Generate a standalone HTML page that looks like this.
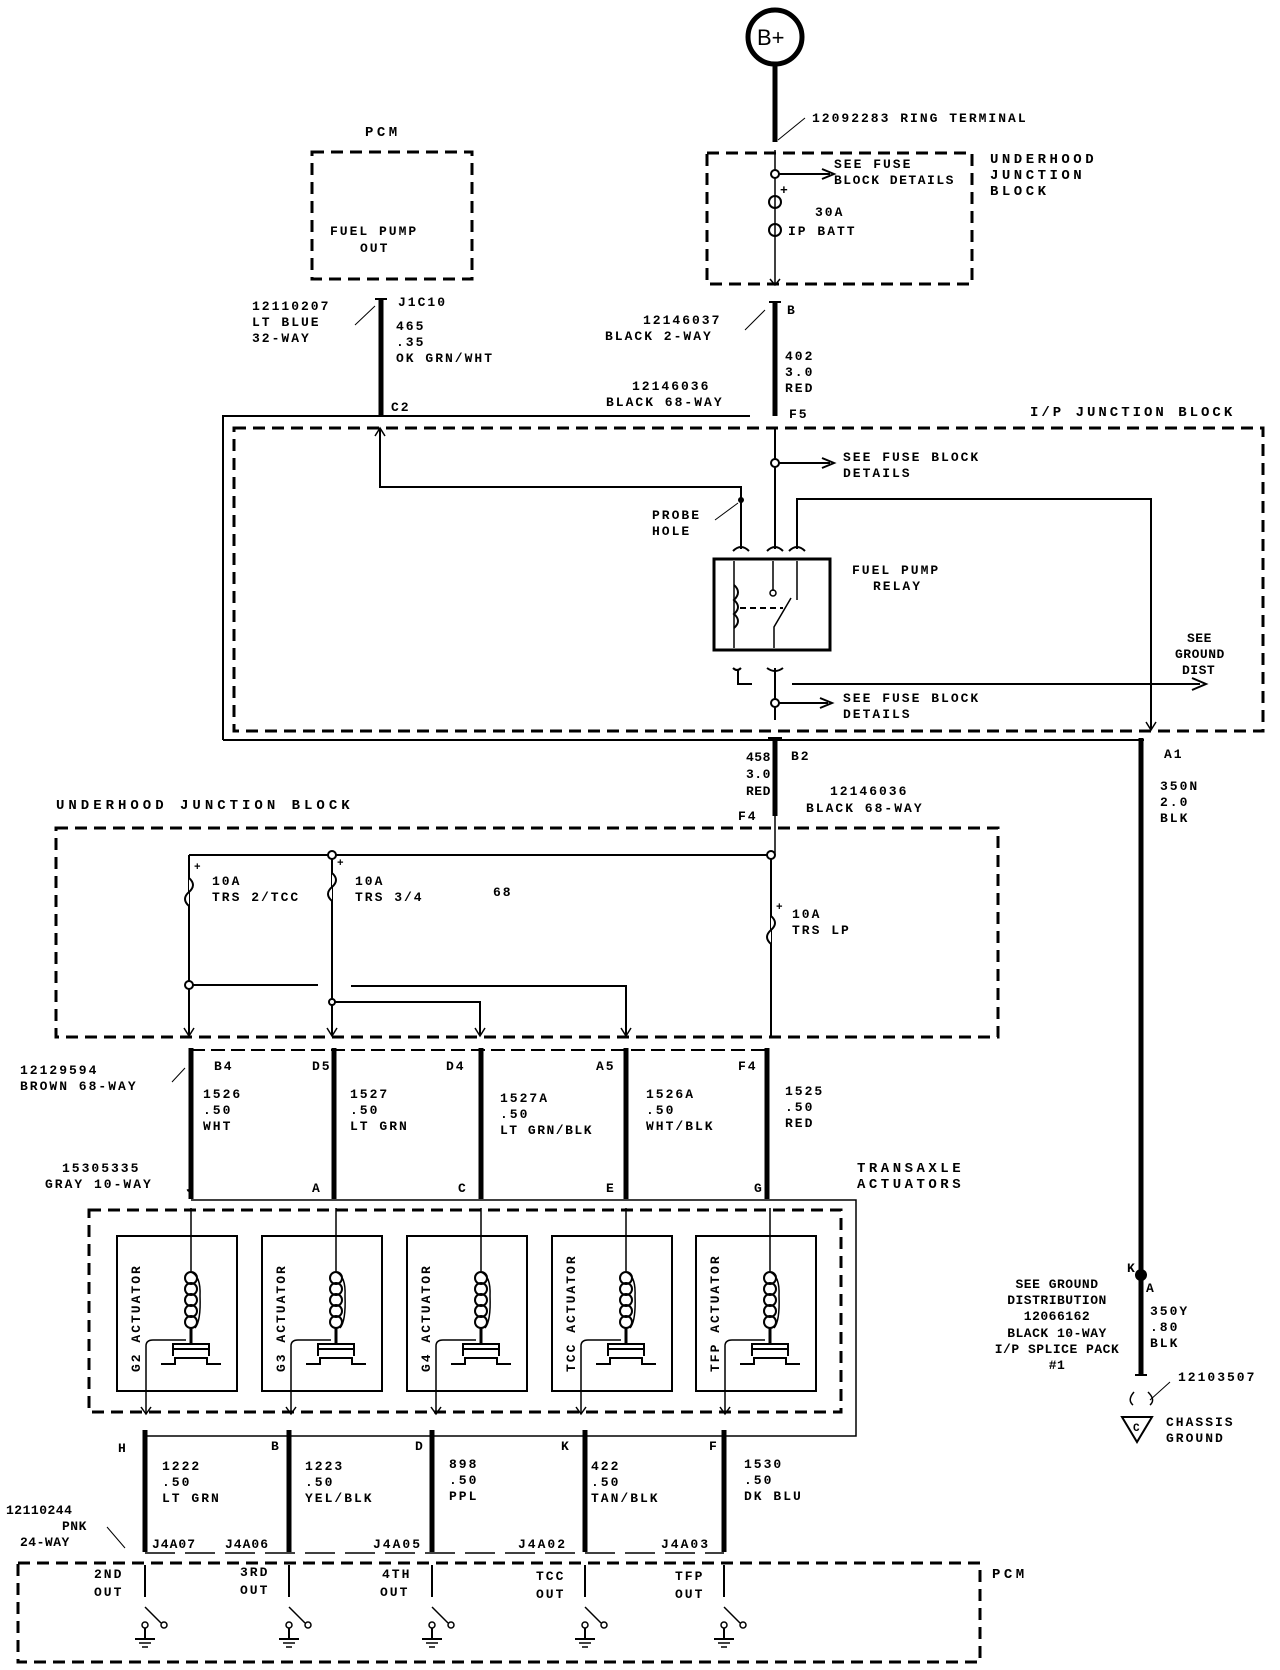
<!DOCTYPE html>
<html><head><meta charset="utf-8"><style>
html,body{margin:0;padding:0;background:#fff}
svg{display:block}
text{font-family:"Liberation Mono",monospace;font-size:13px;font-weight:bold;fill:#000;letter-spacing:2px}
.h{font-size:14px;letter-spacing:3.5px}
.n{letter-spacing:0.5px}
</style></head><body>
<svg width="1280" height="1670" viewBox="0 0 1280 1670" xmlns="http://www.w3.org/2000/svg">
<defs>
<g id="act">
  <rect x="-74" y="0" width="120" height="155" fill="none" stroke="#000" stroke-width="2"/>
  <line x1="0" y1="-28" x2="0" y2="35" stroke="#000" stroke-width="1.5"/>
  <circle cx="0" cy="42" r="6" fill="none" stroke="#000" stroke-width="2"/>
  <circle cx="0" cy="53" r="6" fill="none" stroke="#000" stroke-width="2"/>
  <circle cx="0" cy="64" r="6" fill="none" stroke="#000" stroke-width="2"/>
  <circle cx="0" cy="75" r="6" fill="none" stroke="#000" stroke-width="2"/>
  <circle cx="0" cy="86" r="6" fill="none" stroke="#000" stroke-width="2"/>
  <path d="M0 36 Q10 40 9 60 Q10 85 4 92" fill="none" stroke="#000" stroke-width="1.5"/>
  <line x1="0" y1="92" x2="0" y2="108" stroke="#000" stroke-width="3"/>
  <path d="M-18 120 V108 H18 V120" fill="none" stroke="#000" stroke-width="2"/>
  <line x1="-18" y1="113" x2="18" y2="113" stroke="#000" stroke-width="2"/>
  <path d="M-30 128 H-16 V122 H16 V128 H30" fill="none" stroke="#000" stroke-width="2"/>
  <path d="M-45 178 V110 Q-45 104 -38 104 H-5" fill="none" stroke="#000" stroke-width="1.5"/>
  <path d="M-50 171 L-45 178 L-40 171" fill="none" stroke="#000" stroke-width="1.5"/>
</g>
<g id="out">
  <line x1="0" y1="0" x2="0" y2="32" stroke="#000" stroke-width="2"/>
  <line x1="0" y1="42" x2="16" y2="58" stroke="#000" stroke-width="1.5"/>
  <circle cx="19" cy="60" r="3" fill="none" stroke="#000" stroke-width="1.5"/>
  <circle cx="0" cy="60" r="3" fill="none" stroke="#000" stroke-width="1.5"/>
  <line x1="0" y1="63" x2="0" y2="74" stroke="#000" stroke-width="2"/>
  <line x1="-10" y1="74" x2="10" y2="74" stroke="#000" stroke-width="2"/>
  <line x1="-6" y1="78" x2="6" y2="78" stroke="#000" stroke-width="1.5"/>
  <line x1="-3" y1="82" x2="3" y2="82" stroke="#000" stroke-width="1.5"/>
</g>
</defs>

<!-- B+ -->
<circle cx="775" cy="37" r="27" fill="none" stroke="#000" stroke-width="5"/>
<text x="757" y="45" style="font-size:22px;font-weight:normal;font-family:'Liberation Sans',sans-serif;letter-spacing:0">B+</text>
<line x1="775" y1="64" x2="775" y2="142" stroke="#000" stroke-width="5"/>
<path d="M778 140 L805 118" stroke="#000" stroke-width="1"/>
<text x="812" y="122">12092283 RING TERMINAL</text>

<!-- Underhood JB top -->
<rect x="707" y="153" width="265" height="131" fill="none" stroke="#000" stroke-width="3" stroke-dasharray="12,7"/>
<text class="h" x="990" y="163">UNDERHOOD</text><text class="h" x="990" y="179">JUNCTION</text><text class="h" x="990" y="195">BLOCK</text>
<line x1="775" y1="150" x2="775" y2="284" stroke="#000" stroke-width="1.5"/>
<circle cx="775" cy="174" r="4" fill="#fff" stroke="#000" stroke-width="2"/>
<line x1="779" y1="174" x2="830" y2="174" stroke="#000" stroke-width="2"/>
<path d="M822 169 L834 174 L822 179" fill="none" stroke="#000" stroke-width="2"/>
<text x="834" y="168">SEE FUSE</text><text x="834" y="184" style="letter-spacing:1.5px">BLOCK DETAILS</text>
<text x="780" y="194">+</text>
<circle cx="775" cy="202" r="6" fill="none" stroke="#000" stroke-width="2"/>
<circle cx="775" cy="230" r="6" fill="none" stroke="#000" stroke-width="2"/>
<text x="815" y="216">30A</text><text x="788" y="235">IP BATT</text>
<path d="M770 279 L775 285 L780 279" fill="none" stroke="#000" stroke-width="1.5"/>

<!-- PCM top -->
<text class="h" x="365" y="136">PCM</text>
<rect x="312" y="152" width="160" height="127" fill="none" stroke="#000" stroke-width="3" stroke-dasharray="12,7"/>
<text x="330" y="235">FUEL PUMP</text><text x="360" y="252">OUT</text>

<!-- PCM wire -->
<line x1="381" y1="299" x2="381" y2="416" stroke="#000" stroke-width="5"/>
<path d="M375 299 L387 299" stroke="#000" stroke-width="2"/>
<path d="M375 306 L355 325" stroke="#000" stroke-width="1"/>
<text x="252" y="310">12110207</text><text x="252" y="326">LT BLUE</text><text x="252" y="342">32-WAY</text>
<text x="398" y="306">J1C10</text>
<text x="396" y="330">465</text><text x="396" y="346">.35</text><text x="396" y="362">OK GRN/WHT</text>
<text x="391" y="411">C2</text>

<!-- 402 wire -->
<line x1="775" y1="302" x2="775" y2="416" stroke="#000" stroke-width="5"/>
<path d="M769 302 L781 302" stroke="#000" stroke-width="2"/>
<path d="M765 310 L745 330" stroke="#000" stroke-width="1"/>
<text x="787" y="314">B</text>
<text x="643" y="324">12146037</text><text x="605" y="340">BLACK 2-WAY</text>
<text x="785" y="360">402</text><text x="785" y="376">3.0</text><text x="785" y="392">RED</text>
<text x="632" y="390">12146036</text><text x="606" y="406">BLACK 68-WAY</text>
<text x="789" y="418">F5</text>

<!-- IP junction block -->
<path d="M223 740 V416 H750" fill="none" stroke="#000" stroke-width="2"/>
<line x1="223" y1="740" x2="1144" y2="740" stroke="#000" stroke-width="2"/>
<rect x="234" y="428" width="1029" height="303" fill="none" stroke="#000" stroke-width="3" stroke-dasharray="12,7"/>
<text class="h" x="1030" y="416" style="letter-spacing:3px">I/P JUNCTION BLOCK</text>
<path d="M380 428 V487 H741 V549" fill="none" stroke="#000" stroke-width="2"/>
<path d="M375 436 L380 428 L385 436" fill="none" stroke="#000" stroke-width="1.5"/>
<circle cx="741" cy="500" r="3" fill="#000"/>
<path d="M738 503 L715 520" stroke="#000" stroke-width="1"/>
<text x="652" y="519">PROBE</text><text x="652" y="535">HOLE</text>
<line x1="775" y1="428" x2="775" y2="549" stroke="#000" stroke-width="2"/>
<circle cx="775" cy="463" r="4" fill="#fff" stroke="#000" stroke-width="2"/>
<line x1="779" y1="463" x2="830" y2="463" stroke="#000" stroke-width="2"/>
<path d="M822 458 L834 463 L822 468" fill="none" stroke="#000" stroke-width="2"/>
<text x="843" y="461">SEE FUSE BLOCK</text><text x="843" y="477">DETAILS</text>
<path d="M797 549 V499 H1151 V729" fill="none" stroke="#000" stroke-width="2"/>
<path d="M1146 722 L1151 730 L1156 722" fill="none" stroke="#000" stroke-width="1.5"/>
<path d="M733 551 Q741 543 749 551 M767 551 Q775 543 783 551 M789 551 Q797 543 805 551" fill="none" stroke="#000" stroke-width="2"/>
<!-- relay -->
<rect x="714" y="559" width="116" height="91" fill="none" stroke="#000" stroke-width="3"/>
<line x1="734" y1="561" x2="734" y2="648" stroke="#000" stroke-width="1.5"/>
<path d="M734 585 Q742 592 734 600 Q742 607 734 614 Q742 621 734 628" fill="none" stroke="#000" stroke-width="2"/>
<line x1="773" y1="561" x2="773" y2="591" stroke="#000" stroke-width="1.5"/>
<circle cx="773" cy="593" r="3" fill="none" stroke="#000" stroke-width="1.5"/>
<line x1="797" y1="561" x2="797" y2="600" stroke="#000" stroke-width="1.5"/>
<line x1="740" y1="608" x2="783" y2="608" stroke="#000" stroke-width="2" stroke-dasharray="6,4"/>
<path d="M791 598 L774 627 V648" fill="none" stroke="#000" stroke-width="1.5"/>
<text x="852" y="574">FUEL PUMP</text><text x="873" y="590">RELAY</text>
<path d="M733 668 Q737 672 741 668 M738 670 V684 H752" fill="none" stroke="#000" stroke-width="2"/>
<path d="M767 668 Q775 674 783 668" fill="none" stroke="#000" stroke-width="2"/>
<line x1="775" y1="668" x2="775" y2="720" stroke="#000" stroke-width="2"/>
<line x1="792" y1="684" x2="1200" y2="684" stroke="#000" stroke-width="2"/>
<path d="M1192 678 L1206 684 L1192 690" fill="none" stroke="#000" stroke-width="2"/>
<text class="n" x="1187" y="642">SEE</text><text class="n" x="1175" y="658">GROUND</text><text class="n" x="1182" y="674">DIST</text>
<circle cx="775" cy="703" r="4" fill="#fff" stroke="#000" stroke-width="2"/>
<line x1="779" y1="703" x2="828" y2="703" stroke="#000" stroke-width="2"/>
<path d="M820 698 L832 703 L820 708" fill="none" stroke="#000" stroke-width="2"/>
<text x="843" y="702">SEE FUSE BLOCK</text><text x="843" y="718">DETAILS</text>

<!-- B2 wire -->
<line x1="775" y1="738" x2="775" y2="816" stroke="#000" stroke-width="5"/>
<path d="M768 738 L782 738" stroke="#000" stroke-width="2"/>
<text x="746" y="761" class="n">458</text><text x="746" y="778" class="n">3.0</text><text x="746" y="795" class="n">RED</text>
<text x="791" y="760">B2</text>
<text x="738" y="820">F4</text>
<text x="830" y="795">12146036</text><text x="806" y="812">BLACK 68-WAY</text>

<!-- A1 wire -->
<line x1="1141" y1="738" x2="1141" y2="1375" stroke="#000" stroke-width="5"/>
<text x="1164" y="758">A1</text>
<text x="1160" y="790">350N</text><text x="1160" y="806">2.0</text><text x="1160" y="822">BLK</text>
<circle cx="1141" cy="1275" r="6" fill="#000"/>
<text x="1127" y="1272">K</text><text x="1146" y="1292">A</text>
<text x="1150" y="1315">350Y</text><text x="1150" y="1331">.80</text><text x="1150" y="1347">BLK</text>
<g style="text-anchor:middle">
<text class="n" x="1057" y="1288">SEE GROUND</text><text class="n" x="1057" y="1304">DISTRIBUTION</text><text class="n" x="1057" y="1320">12066162</text>
<text class="n" x="1057" y="1337">BLACK 10-WAY</text><text class="n" x="1057" y="1353">I/P SPLICE PACK</text><text class="n" x="1057" y="1369">#1</text>
</g>
<line x1="1135" y1="1375" x2="1147" y2="1375" stroke="#000" stroke-width="2"/>
<path d="M1150 1400 L1170 1382" stroke="#000" stroke-width="1"/>
<text x="1178" y="1381">12103507</text>
<path d="M1133 1405 Q1127 1400 1134 1392 M1148 1392 Q1156 1400 1150 1405" fill="none" stroke="#000" stroke-width="1.5"/>
<path d="M1122 1417 H1152 L1137 1442 Z" fill="none" stroke="#000" stroke-width="2"/>
<text x="1133" y="1431" style="font-size:11px;letter-spacing:0">C</text>
<text x="1166" y="1426">CHASSIS</text><text x="1166" y="1442">GROUND</text>

<!-- Underhood JB 2 -->
<text class="h" x="56" y="809" style="letter-spacing:4px">UNDERHOOD JUNCTION BLOCK</text>
<rect x="56" y="828" width="942" height="209" fill="none" stroke="#000" stroke-width="3" stroke-dasharray="12,7"/>
<line x1="775" y1="816" x2="775" y2="855" stroke="#000" stroke-width="1.5"/>
<line x1="189" y1="855" x2="771" y2="855" stroke="#000" stroke-width="2"/>
<line x1="189" y1="855" x2="189" y2="1035" stroke="#000" stroke-width="2"/>
<line x1="332" y1="855" x2="332" y2="1035" stroke="#000" stroke-width="2"/>
<line x1="771" y1="855" x2="771" y2="1037" stroke="#000" stroke-width="2"/>
<circle cx="332" cy="855" r="4" fill="#fff" stroke="#000" stroke-width="2"/>
<circle cx="771" cy="855" r="4" fill="#fff" stroke="#000" stroke-width="2"/>
<path d="M189 878 Q197 885 189 892 Q181 899 189 906" fill="#fff" stroke="#000" stroke-width="2"/>
<path d="M332 873 Q340 880 332 887 Q324 894 332 901" fill="#fff" stroke="#000" stroke-width="2"/>
<path d="M771 916 Q779 923 771 930 Q763 937 771 944" fill="#fff" stroke="#000" stroke-width="2"/>
<text x="194" y="870" style="font-size:11px">+</text><text x="337" y="866" style="font-size:11px">+</text><text x="776" y="910" style="font-size:11px">+</text>
<text x="212" y="885">10A</text><text x="212" y="901">TRS 2/TCC</text>
<text x="355" y="885">10A</text><text x="355" y="901">TRS 3/4</text>
<text x="493" y="896">68</text>
<text x="792" y="918">10A</text><text x="792" y="934">TRS LP</text>
<circle cx="189" cy="985" r="4" fill="#fff" stroke="#000" stroke-width="2"/>
<line x1="193" y1="985" x2="318" y2="985" stroke="#000" stroke-width="2"/>
<path d="M351 986 H626 V1035" fill="none" stroke="#000" stroke-width="2"/>
<circle cx="332" cy="1002" r="3" fill="#fff" stroke="#000" stroke-width="2"/>
<path d="M335 1002 H480 V1035" fill="none" stroke="#000" stroke-width="2"/>
<path d="M184 1028 L189 1036 L194 1028 M327 1028 L332 1036 L337 1028 M475 1028 L480 1036 L485 1028 M621 1028 L626 1036 L631 1028" fill="none" stroke="#000" stroke-width="1.5"/>

<!-- connector wires -->
<line x1="191" y1="1050" x2="767" y2="1050" stroke="#000" stroke-width="2" stroke-dasharray="14,6"/>
<g stroke="#000" stroke-width="5">
<line x1="191" y1="1048" x2="191" y2="1199"/><line x1="334" y1="1048" x2="334" y2="1199"/>
<line x1="481" y1="1048" x2="481" y2="1199"/><line x1="626" y1="1048" x2="626" y2="1199"/>
<line x1="767" y1="1048" x2="767" y2="1199"/>
</g>
<path d="M185 1068 L172 1082" stroke="#000" stroke-width="1"/>
<text x="214" y="1070">B4</text><text x="312" y="1070">D5</text><text x="446" y="1070">D4</text><text x="596" y="1070">A5</text><text x="738" y="1070">F4</text>
<text x="20" y="1074">12129594</text><text x="20" y="1090">BROWN 68-WAY</text>
<text x="203" y="1098">1526</text><text x="203" y="1114">.50</text><text x="203" y="1130">WHT</text>
<text x="350" y="1098">1527</text><text x="350" y="1114">.50</text><text x="350" y="1130">LT GRN</text>
<text x="500" y="1102">1527A</text><text x="500" y="1118">.50</text><text x="500" y="1134" style="letter-spacing:1.5px">LT GRN/BLK</text>
<text x="646" y="1098">1526A</text><text x="646" y="1114">.50</text><text x="646" y="1130">WHT/BLK</text>
<text x="785" y="1095">1525</text><text x="785" y="1111">.50</text><text x="785" y="1127">RED</text>
<text x="62" y="1172">15305335</text><text x="45" y="1188">GRAY 10-WAY</text>
<text x="186" y="1192">J</text><text x="312" y="1192">A</text><text x="458" y="1192">C</text><text x="606" y="1192">E</text><text x="754" y="1192">G</text>
<text class="h" x="857" y="1172">TRANSAXLE</text><text class="h" x="857" y="1188">ACTUATORS</text>
<path d="M191 1200 H856 V1436 H145" fill="none" stroke="#000" stroke-width="1.5"/>
<rect x="89" y="1210" width="752" height="202" fill="none" stroke="#000" stroke-width="3" stroke-dasharray="12,7"/>

<use href="#act" x="191" y="1236"/><use href="#act" x="336" y="1236"/>
<use href="#act" x="481" y="1236"/><use href="#act" x="626" y="1236"/>
<use href="#act" x="770" y="1236"/>
<g style="font-size:12px;letter-spacing:1px">
<text transform="translate(140 1372) rotate(-90)">G2 ACTUATOR</text>
<text transform="translate(285 1372) rotate(-90)">G3 ACTUATOR</text>
<text transform="translate(430 1372) rotate(-90)">G4 ACTUATOR</text>
<text transform="translate(575 1372) rotate(-90)">TCC ACTUATOR</text>
<text transform="translate(719 1372) rotate(-90)">TFP ACTUATOR</text>
</g>

<!-- lower wires -->
<g stroke="#000" stroke-width="5">
<line x1="145" y1="1430" x2="145" y2="1552"/><line x1="289" y1="1430" x2="289" y2="1552"/>
<line x1="432" y1="1430" x2="432" y2="1552"/><line x1="585" y1="1430" x2="585" y2="1552"/>
<line x1="724" y1="1430" x2="724" y2="1552"/>
</g>
<line x1="145" y1="1553" x2="724" y2="1553" stroke="#000" stroke-width="1.5" stroke-dasharray="30,10"/>
<text x="118" y="1452">H</text><text x="271" y="1450">B</text><text x="415" y="1450">D</text><text x="561" y="1450">K</text><text x="709" y="1450">F</text>
<text x="162" y="1470">1222</text><text x="162" y="1486">.50</text><text x="162" y="1502">LT GRN</text>
<text x="305" y="1470">1223</text><text x="305" y="1486">.50</text><text x="305" y="1502">YEL/BLK</text>
<text x="449" y="1468">898</text><text x="449" y="1484">.50</text><text x="449" y="1500">PPL</text>
<text x="591" y="1470">422</text><text x="591" y="1486">.50</text><text x="591" y="1502">TAN/BLK</text>
<text x="744" y="1468">1530</text><text x="744" y="1484">.50</text><text x="744" y="1500">DK BLU</text>
<text x="152" y="1548" style="letter-spacing:1px">J4A07</text><text x="225" y="1548" style="letter-spacing:1px">J4A06</text><text x="373" y="1548">J4A05</text><text x="518" y="1548">J4A02</text><text x="661" y="1548">J4A03</text>
<text x="6" y="1514" class="n">12110244</text><text x="62" y="1530" class="n">PNK</text><text x="20" y="1546" class="n">24-WAY</text>
<path d="M107 1527 L125 1548" stroke="#000" stroke-width="1"/>

<!-- PCM bottom -->
<rect x="18" y="1563" width="962" height="99" fill="none" stroke="#000" stroke-width="3" stroke-dasharray="12,7"/>
<text class="h" x="992" y="1578">PCM</text>
<use href="#out" x="145" y="1565"/><use href="#out" x="289" y="1565"/><use href="#out" x="432" y="1565"/>
<use href="#out" x="585" y="1565"/><use href="#out" x="724" y="1565"/>
<text x="94" y="1578">2ND</text><text x="94" y="1596">OUT</text>
<text x="240" y="1576">3RD</text><text x="240" y="1594">OUT</text>
<text x="382" y="1578">4TH</text><text x="380" y="1596">OUT</text>
<text x="536" y="1580">TCC</text><text x="536" y="1598">OUT</text>
<text x="675" y="1580">TFP</text><text x="675" y="1598">OUT</text>
</svg>
</body></html>
